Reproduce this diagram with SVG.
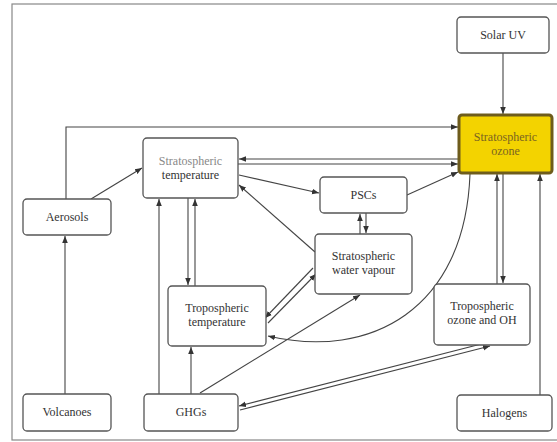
<svg xmlns="http://www.w3.org/2000/svg" width="557" height="442" viewBox="0 0 557 442">
<defs>
<marker id="ah" viewBox="0 0 10 10" refX="10" refY="5" markerWidth="7" markerHeight="7" orient="auto-start-reverse" markerUnits="userSpaceOnUse">
<path d="M0,1 L10,5 L0,9 z" fill="#333"/>
</marker>
<style>
.box{fill:#fff;stroke:#555;stroke-width:1.3}
.oz{fill:#f3d300;stroke:#6e5c1c;stroke-width:3}
.g{fill:#888}
.ot{fill:#7a6420}
.c{fill:none;stroke:#444;stroke-width:1.1;marker-end:url(#ah)}
</style>
</defs>
<rect x="12" y="4" width="548" height="436" fill="#fff" stroke="#888" stroke-width="1.2"/>
<g id="connectors">
<path class="c" d="M503,53 V114"/>
<path class="c" d="M66,199 V127 H458"/>
<path class="c" d="M91,199 L142,168"/>
<path class="c" d="M65,394 V236"/>
<path class="c" d="M458,159 H239"/>
<path class="c" d="M238,164 H458"/>
<path class="c" d="M239,175 L319,193"/>
<path class="c" d="M407,195 L458,172"/>
<path class="c" d="M315,252 L239,185"/>
<path class="c" d="M360,234 V214"/>
<path class="c" d="M366,213 V233"/>
<path class="c" d="M159,394 V199"/>
<path class="c" d="M188,198 V285"/>
<path class="c" d="M195,286 V199"/>
<path class="c" d="M191,394 V347"/>
<path class="c" d="M200,393 L360,295"/>
<path class="c" d="M313,268 L265,318"/>
<path class="c" d="M268,323 L316,274"/>
<path class="c" d="M470,174 C465,310 370,360 268,336"/>
<path class="c" d="M497,284 V174"/>
<path class="c" d="M503,174 V283"/>
<path class="c" d="M540,395 V174"/>
<path class="c" d="M489,342 L239,406"/>
<path class="c" d="M240,410 L490,346"/>
</g>
<g font-family="Liberation Serif, Times New Roman, serif" font-size="12" fill="#333" text-anchor="middle">
<g id="solar-uv"><rect class="box" x="457" y="17" width="92" height="36" rx="4"/><text x="503" y="39">Solar UV</text></g>
<g id="strat-ozone"><rect class="oz" x="459" y="115" width="93" height="58" rx="3"/><text class="ot" x="505.5" y="141">Stratospheric</text><text class="ot" x="505.5" y="155">ozone</text></g>
<g id="strat-temp"><rect class="box" x="143" y="138" width="95" height="60" rx="4"/><text class="g" x="190.5" y="165">Stratospheric</text><text x="190.5" y="179">temperature</text></g>
<g id="aerosols"><rect class="box" x="23" y="199" width="88" height="36" rx="4"/><text x="67" y="221">Aerosols</text></g>
<g id="pscs"><rect class="box" x="320" y="177" width="87" height="36" rx="4"/><text x="363.5" y="199">PSCs</text></g>
<g id="strat-water"><rect class="box" x="315" y="234" width="97" height="60" rx="4"/><text x="363.5" y="260">Stratospheric</text><text x="363.5" y="274">water vapour</text></g>
<g id="trop-temp"><rect class="box" x="168" y="286" width="98" height="60" rx="4"/><text x="217" y="312">Tropospheric</text><text x="217" y="326">temperature</text></g>
<g id="trop-ozone"><rect class="box" x="434" y="284" width="96" height="61" rx="4"/><text x="482" y="310">Tropospheric</text><text x="482" y="324">ozone and OH</text></g>
<g id="volcanoes"><rect class="box" x="23" y="394" width="88" height="37" rx="4"/><text x="67" y="416">Volcanoes</text></g>
<g id="ghgs"><rect class="box" x="144" y="394" width="94" height="37" rx="4"/><text x="191" y="416">GHGs</text></g>
<g id="halogens"><rect class="box" x="457" y="395" width="95" height="36" rx="4"/><text x="504.5" y="417">Halogens</text></g>
</g>
</svg>
